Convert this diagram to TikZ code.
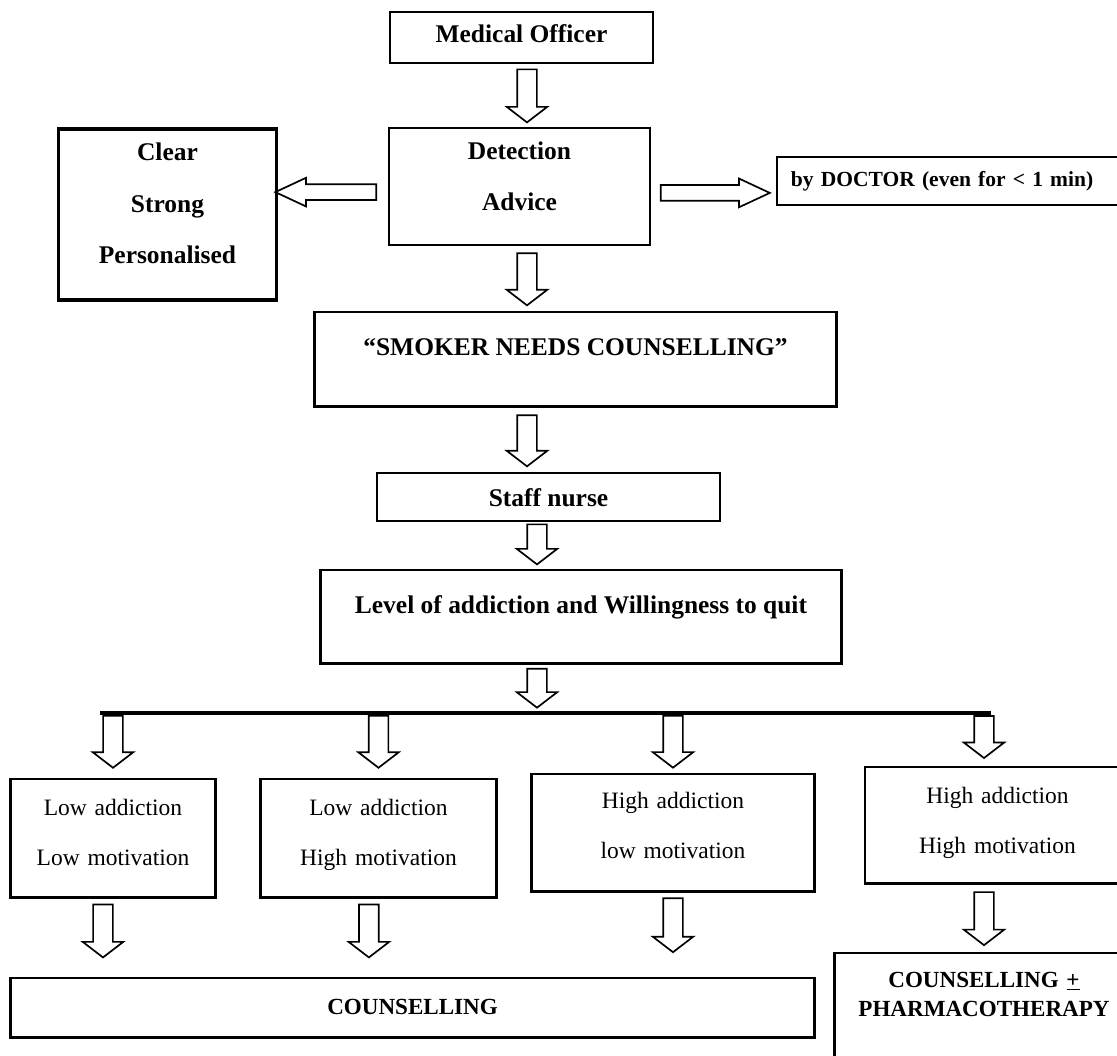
\documentclass[tikz,border=0pt]{standalone}
\usepackage{fontspec}
\setmainfont{Liberation Serif}
\usepackage{tikz}
\usetikzlibrary{shapes,arrows}
\usetikzlibrary{positioning}
\newcommand{\headfont}{\fontsize{18.1pt}{36.3pt}\selectfont\bfseries}
\newcommand{\notefont}{\fontsize{15.3pt}{18pt}\selectfont\bfseries}
\newcommand{\casefont}{\fontsize{16.7pt}{35.6pt}\selectfont}
\newcommand{\finalfont}{\fontsize{16.4pt}{21.3pt}\selectfont\bfseries}
\tikzstyle{box} = [draw, rectangle, inner sep=0pt, text height=0.45cm,
    line width=1.4pt, font=\headfont]
\tikzstyle{heavy box} = [box, line width=2.1pt]
\tikzstyle{case} = [heavy box, font=\casefont, align=center]
\tikzstyle{bar} = [draw, line width=2.8pt]
\tikzset{
  down arrow/.style={single arrow, draw, line width=1.2pt, sloped,
    allow upside down, inner sep=0pt, inner ysep=0.225cm,
    single arrow head extend=0.26cm, single arrow tip angle=105,
    minimum height=#1},
  side arrow/.style={single arrow, draw, line width=1.2pt, sloped,
    allow upside down, inner sep=0pt, inner ysep=0.175cm,
    single arrow head extend=0.1625cm, single arrow tip angle=50,
    minimum height=#1}
}

\begin{document}
\begin{tikzpicture}[x=0.025cm, y=-0.025cm]
  \useasboundingbox (0,0) rectangle (1117,1055);
  \clip (0,0) rectangle (1117,1055);
  \fill[white] (0,0) rectangle (1117,1055);
  \coordinate (spine) at (527,0);
  \coordinate (spine2) at (537,0);

  % Place nodes
  \node [box, minimum width=6.575cm, minimum height=1.275cm,
    text depth=0.225cm] (mo) at (521.5,37.5) {Medical Officer};
  \node [box, minimum width=6.525cm, minimum height=2.925cm, text width=6cm,
    align=center, text depth=1.825cm] (det) at (519.5,186.5)
    {Detection\\Advice};
  \node [heavy box, line width=2.5pt, minimum width=5.45cm,
    minimum height=4.275cm, text width=5cm, align=center,
    text depth=3.125cm] (clear) at (167.5,214.5)
    {Clear\\Strong\\Personalised};
  \node [box, font=\notefont, minimum width=8.825cm, minimum height=1.2cm,
    text width=8.125cm, align=left, text depth=0.2cm] (doc) at (953.5,181)
    {by DOCTOR (even for < 1 min)};
  \node [heavy box, minimum width=13.025cm, minimum height=2.35cm,
    text depth=0.65cm] (smoker) at (575.5,359)
    {“SMOKER NEEDS COUNSELLING”};
  \node [box, minimum width=8.575cm, minimum height=1.2cm,
    text depth=0cm] (staff) at (548.5,497) {Staff nurse};
  \node [heavy box, minimum width=13cm, minimum height=2.325cm,
    text depth=0.625cm] (level) at (581,616.5)
    {Level of addiction and Willingness to quit};

  \coordinate (barl) at (100,713);
  \coordinate (barr) at (991,713);
  \path [bar] (barl) -- (barr);

  \node [case, minimum width=5.1cm, minimum height=2.95cm, text width=4.8cm,
    text depth=1.6cm] (lowlow) at (113,838) {Low addiction\\Low motivation};
  \node [case, minimum width=5.875cm, minimum height=2.95cm, text width=5.5cm,
    text depth=1.6cm] (lowhigh) at (378.5,838)
    {Low addiction\\High motivation};
  \node [case, minimum width=7.05cm, minimum height=2.925cm, text width=6.5cm,
    text depth=1.675cm] (highlow) at (673,832.5)
    {High addiction\\low motivation};
  \node [case, minimum width=6.625cm, minimum height=2.9cm, text width=6cm,
    text depth=1.55cm] (highhigh) at (997.5,825)
    {High addiction\\High motivation};
  \node [heavy box, font=\finalfont, minimum width=20.075cm,
    minimum height=1.475cm, text depth=0.125cm] (counselling)
    at (412.5,1007.5) {COUNSELLING};
  \node [heavy box, font=\finalfont, minimum width=7.45cm, minimum height=3.3cm,
    text width=7cm, align=center, text depth=2.05cm] (pharma) at (984,1019)
    {COUNSELLING \underline{+}\\PHARMACOTHERAPY};

  % arrows
  \coordinate (detl) at ([yshift=-0.14cm]det.west);
  \coordinate (detr) at ([yshift=-0.16cm]det.east);
  \coordinate (ll) at ([xshift=-0.25cm]lowlow.south);
  \coordinate (lh) at ([xshift=-0.24cm]lowhigh.south);

  \path (spine |- mo.south) -- node [down arrow=1.325cm, pos=0.446] {} (spine |- det.north);
  \path (detl) -- node [side arrow=2.525cm, pos=0.49] {} (detl -| clear.east);
  \path (detr) -- node [side arrow=2.725cm, pos=0.447] {} (detr -| doc.west);
  \path (spine |- det.south) -- node [down arrow=1.3cm, pos=0.458] {} (spine |- smoker.north);
  \path (spine |- smoker.south) -- node [down arrow=1.275cm, pos=0.458] {} (spine |- staff.north);
  \path (spine2 |- staff.south) -- node [down arrow=1cm, pos=0.40] {} (spine2 |- level.north);
  \path (spine2 |- level.south) -- node [down arrow=0.975cm, pos=0.41] {} (spine2 |- barl);

  \path (lowlow.north |- barl) -- node [down arrow=1.3cm, pos=0.387] {} (lowlow.north);
  \path (lowhigh.north |- barl) -- node [down arrow=1.3cm, pos=0.387] {} (lowhigh.north);
  \path (highlow.north |- barl) -- node [down arrow=1.3cm, pos=0.418] {} (highlow.north);
  \path (pharma.north |- barl) -- node [down arrow=1.05cm, pos=0.385] {} (pharma.north |- highhigh.north);

  \path (ll) -- node [down arrow=1.325cm, pos=0.367] {} (ll |- counselling.north);
  \path (lh) -- node [down arrow=1.325cm, pos=0.367] {} (lh |- counselling.north);
  \path (highlow.south) -- node [down arrow=1.35cm, pos=0.344] {} (highlow.south |- counselling.north);
  \path (pharma.north |- highhigh.south) -- node [down arrow=1.325cm, pos=0.453] {} (pharma.north);

\end{tikzpicture}
\end{document}
